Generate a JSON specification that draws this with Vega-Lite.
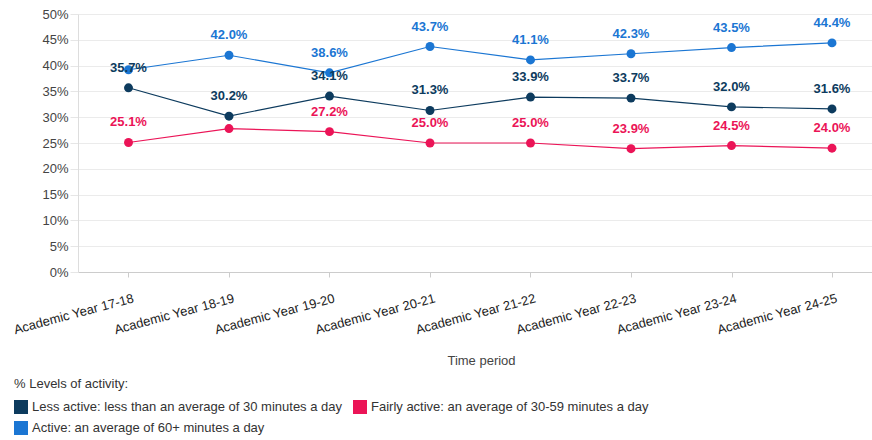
{
  "$schema": "https://vega.github.io/schema/vega-lite/v6.json",
  "width": 794,
  "height": 258,
  "autosize": {"type": "none"},
  "padding": {"left": 78, "top": 14, "right": 0, "bottom": 168},
  "background": "white",
  "config": {
    "view": {"stroke": null},
    "font": "Liberation Sans, Arial, sans-serif"
  },
  "data": {
    "values": [
      {"period": "Academic Year 17-18", "series": "Less active: less than an average of 30 minutes a day", "value": 0.357},
      {"period": "Academic Year 18-19", "series": "Less active: less than an average of 30 minutes a day", "value": 0.302},
      {"period": "Academic Year 19-20", "series": "Less active: less than an average of 30 minutes a day", "value": 0.341},
      {"period": "Academic Year 20-21", "series": "Less active: less than an average of 30 minutes a day", "value": 0.313},
      {"period": "Academic Year 21-22", "series": "Less active: less than an average of 30 minutes a day", "value": 0.339},
      {"period": "Academic Year 22-23", "series": "Less active: less than an average of 30 minutes a day", "value": 0.337},
      {"period": "Academic Year 23-24", "series": "Less active: less than an average of 30 minutes a day", "value": 0.320},
      {"period": "Academic Year 24-25", "series": "Less active: less than an average of 30 minutes a day", "value": 0.316},
      {"period": "Academic Year 17-18", "series": "Fairly active: an average of 30-59 minutes a day", "value": 0.251},
      {"period": "Academic Year 18-19", "series": "Fairly active: an average of 30-59 minutes a day", "value": 0.278},
      {"period": "Academic Year 19-20", "series": "Fairly active: an average of 30-59 minutes a day", "value": 0.272},
      {"period": "Academic Year 20-21", "series": "Fairly active: an average of 30-59 minutes a day", "value": 0.250},
      {"period": "Academic Year 21-22", "series": "Fairly active: an average of 30-59 minutes a day", "value": 0.250},
      {"period": "Academic Year 22-23", "series": "Fairly active: an average of 30-59 minutes a day", "value": 0.239},
      {"period": "Academic Year 23-24", "series": "Fairly active: an average of 30-59 minutes a day", "value": 0.245},
      {"period": "Academic Year 24-25", "series": "Fairly active: an average of 30-59 minutes a day", "value": 0.240},
      {"period": "Academic Year 17-18", "series": "Active: an average of 60+ minutes a day", "value": 0.392},
      {"period": "Academic Year 18-19", "series": "Active: an average of 60+ minutes a day", "value": 0.420},
      {"period": "Academic Year 19-20", "series": "Active: an average of 60+ minutes a day", "value": 0.386},
      {"period": "Academic Year 20-21", "series": "Active: an average of 60+ minutes a day", "value": 0.437},
      {"period": "Academic Year 21-22", "series": "Active: an average of 60+ minutes a day", "value": 0.411},
      {"period": "Academic Year 22-23", "series": "Active: an average of 60+ minutes a day", "value": 0.423},
      {"period": "Academic Year 23-24", "series": "Active: an average of 60+ minutes a day", "value": 0.435},
      {"period": "Academic Year 24-25", "series": "Active: an average of 60+ minutes a day", "value": 0.444}
    ]
  },
  "encoding": {
    "x": {
      "field": "period",
      "type": "ordinal",
      "sort": null,
      "scale": {"type": "point", "padding": 0.4502, "align": 0.558},
      "axis": {
        "title": "Time period",
        "titleColor": "#444",
        "titleFontSize": 13,
        "titleFontWeight": "normal",
        "titleX": 403,
        "titleY": 88,
        "titleBaseline": "middle",
        "labelAngle": -15,
        "labelAlign": "right",
        "labelBaseline": "top",
        "labelPadding": 15,
        "labelOffset": 3,
        "labelFontSize": 13,
        "labelColor": "#222",
        "labelOverlap": false,
        "labelBound": false,
        "labelLimit": 0,
        "domainColor": "#cccccc",
        "tickColor": "#cccccc",
        "tickSize": 5,
        "grid": false
      }
    },
    "y": {
      "field": "value",
      "type": "quantitative",
      "scale": {"domain": [0, 0.5], "nice": false},
      "axis": {
        "title": null,
        "values": [0, 0.05, 0.1, 0.15, 0.2, 0.25, 0.3, 0.35, 0.4, 0.45, 0.5],
        "format": ".0%",
        "labelColor": "#444",
        "labelFontSize": 13,
        "labelPadding": 2,
        "tickSize": 8,
        "tickColor": "#e6e6e6",
        "domainColor": "#dddddd",
        "gridColor": "#ebebeb",
        "grid": true
      }
    },
    "color": {
      "field": "series",
      "type": "nominal",
      "scale": {
        "domain": [
          "Less active: less than an average of 30 minutes a day",
          "Active: an average of 60+ minutes a day",
          "Fairly active: an average of 30-59 minutes a day"
        ],
        "range": ["#0D3B5E", "#1B76D3", "#EB1457"]
      },
      "legend": {
        "orient": "none",
        "legendX": -64,
        "legendY": 364,
        "columns": 2,
        "title": "% Levels of activity:",
        "titleFontWeight": "normal",
        "titleFontSize": 13,
        "titleColor": "#333",
        "titlePadding": 9,
        "labelFontSize": 13,
        "labelColor": "#333",
        "labelLimit": 500,
        "symbolType": "square",
        "symbolSize": 196,
        "symbolStrokeWidth": 0,
        "symbolOpacity": 1,
        "rowPadding": 7,
        "columnPadding": 10
      }
    }
  },
  "layer": [
    {"mark": {"type": "line", "strokeWidth": 1.2}},
    {"mark": {"type": "point", "filled": true, "size": 80, "opacity": 1}},
    {
      "transform": [
        {"filter": "!(datum.period == 'Academic Year 17-18' && datum.series == 'Active: an average of 60+ minutes a day') && !(datum.period == 'Academic Year 18-19' && datum.series == 'Fairly active: an average of 30-59 minutes a day')"}
      ],
      "mark": {"type": "text", "dy": -20, "fontWeight": "bold", "fontSize": 13, "baseline": "middle"},
      "encoding": {"text": {"field": "value", "type": "quantitative", "format": ".1%"}}
    }
  ]
}
